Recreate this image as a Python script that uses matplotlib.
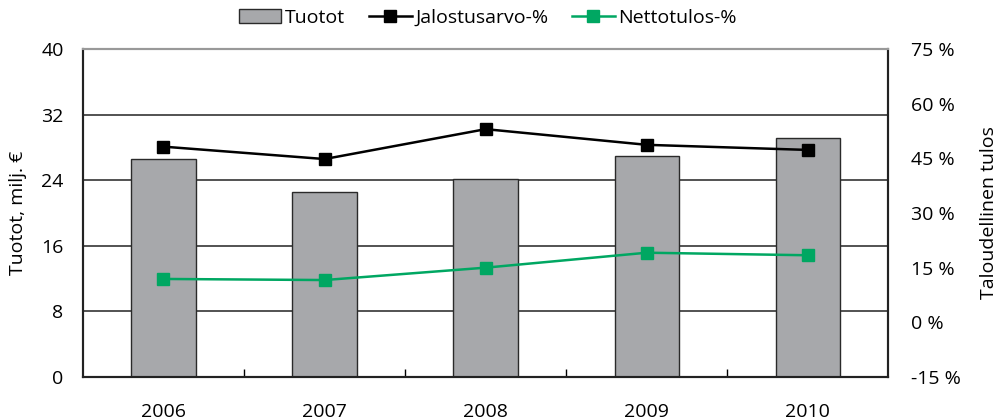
import numpy as np
import matplotlib
matplotlib.use("Agg")
import matplotlib.pyplot as plt
from matplotlib.ticker import FixedLocator

plt.rcParams['font.family'] = ['Open Sans', 'DejaVu Sans']

# --- data ---
years = ["2006", "2007", "2008", "2009", "2010"]
tuotot = [26.6, 22.5, 24.1, 26.9, 29.1]          # milj. €
jalostusarvo = [48.2, 44.8, 53.0, 48.7, 47.3]    # %
nettotulos = [11.9, 11.6, 15.0, 19.1, 18.4]      # %

bar_color = "#a7a8ab"
green = "#00a762"
grid_color = "#444444"

fig = plt.figure(figsize=(10.08, 4.2), dpi=100)
ax = fig.add_axes([0.0823, 0.1024, 0.799, 0.781])
ax2 = ax.twinx()

x = np.arange(len(years))
ax.bar(x, tuotot, width=0.4, color=bar_color, edgecolor="#2a2a2a",
       linewidth=1.0, zorder=2, label="Tuotot")

ax.set_xlim(-0.5, len(years) - 0.5)
ax.set_ylim(0, 40)
ax.set_yticks([0, 8, 16, 24, 32, 40])
ax.yaxis.grid(True, color=grid_color, linewidth=1.3, zorder=0)
ax.set_axisbelow(True)

ax.set_xticks(x)
ax.set_xticklabels(years)
ax.xaxis.set_minor_locator(FixedLocator(np.arange(0.5, len(years) - 1, 1.0)))
ax.tick_params(axis="x", which="major", length=0, pad=19, labelsize=14)
ax.tick_params(axis="x", which="minor", direction="in", length=6, width=1, color="black")
ax.tick_params(axis="y", length=0, pad=14, labelsize=14)
ax.set_ylabel("Tuotot, milj. €", fontsize=14, labelpad=10)

ax2.plot(x, jalostusarvo, color="black", marker="s", markersize=8,
         linewidth=1.8, label="Jalostusarvo-%", zorder=3)
ax2.plot(x, nettotulos, color=green, marker="s", markersize=8,
         linewidth=1.8, label="Nettotulos-%", zorder=3)
ax2.set_ylim(-15, 75)
ax2.set_yticks(np.arange(-15, 76, 15))
ax2.set_yticklabels([f"{v} %" for v in range(-15, 76, 15)])
ax2.tick_params(axis="y", length=0, pad=16, labelsize=14)
ax2.set_ylabel("Taloudellinen tulos", fontsize=14, labelpad=14)

for a in (ax, ax2):
    a.spines["top"].set_color("#999999")
    a.spines["top"].set_linewidth(1.5)
    for s in ("left", "right", "bottom"):
        a.spines[s].set_color("#222222")
        a.spines[s].set_linewidth(1.5)

h1, l1 = ax.get_legend_handles_labels()
h2, l2 = ax2.get_legend_handles_labels()
fig.legend(h1 + h2, l1 + l2, loc="upper center", bbox_to_anchor=(0.484, 1.02),
           ncol=3, frameon=False, fontsize=14, handlelength=2.2,
           handletextpad=0.2, columnspacing=1.2)

fig.savefig("out.png", dpi=100)
